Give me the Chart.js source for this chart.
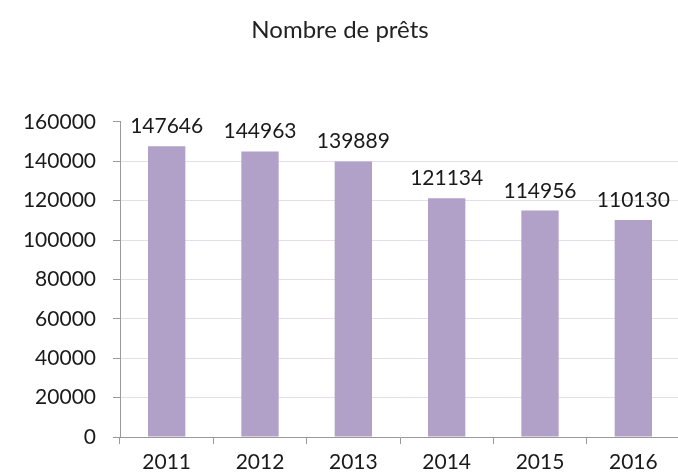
<!DOCTYPE html>
<html>
<head>
<meta charset="utf-8">
<script src="https://cdn.jsdelivr.net/npm/chart.js@4"></script>
<style>
  html, body { margin: 0; padding: 0; background: #fff; overflow: hidden; }
  #wrap { width: 684px; height: 476px; }
</style>
</head>
<body>
<div id="wrap"><canvas id="pretsChart" width="684" height="476"></canvas></div>
<script>
// Data
const years = ["2011", "2012", "2013", "2014", "2015", "2016"];
const loans = [147646, 144963, 139889, 121134, 114956, 110130];

const FONT = "Lato, 'DejaVu Sans', sans-serif";
const TEXT = "#1a1a1a";

// Draw the value above each bar
const valueLabels = {
  id: "valueLabels",
  afterDatasetsDraw(chart) {
    const ctx = chart.ctx;
    ctx.save();
    ctx.font = "21px " + FONT;
    ctx.fillStyle = TEXT;
    ctx.textAlign = "center";
    ctx.textBaseline = "alphabetic";
    chart.getDatasetMeta(0).data.forEach((bar, i) => {
      ctx.fillText(String(loans[i]), bar.x, bar.y - 13);
    });
    ctx.restore();
  }
};

const ctx = document.getElementById("pretsChart").getContext("2d");
new Chart(ctx, {
  type: "bar",
  data: {
    labels: years,
    datasets: [{
      data: loans,
      backgroundColor: "#b1a0c7",
      categoryPercentage: 0.4,
      barPercentage: 1
    }]
  },
  options: {
    responsive: false,
    animation: false,
    layout: { padding: { left: 0, right: 4, top: 0, bottom: 0 } },
    plugins: {
      legend: { display: false },
      tooltip: { enabled: false },
      title: {
        display: true,
        text: "Nombre de prêts",
        color: "#222",
        font: { family: FONT, size: 24, weight: "normal" },
        padding: { top: 16, bottom: 77 }
      }
    },
    scales: {
      x: {
        grid: {
          offset: true,
          drawOnChartArea: false,
          tickLength: 7,
          tickColor: "#9a9a9a"
        },
        border: { color: "#9a9a9a", width: 1 },
        ticks: { color: TEXT, font: { family: FONT, size: 21 }, padding: 6 },
        afterFit(scale) { scale.height = 39; }
      },
      y: {
        min: 0,
        max: 160000,
        ticks: {
          stepSize: 20000,
          color: TEXT,
          font: { family: FONT, size: 21 },
          padding: 17,
          callback: (v) => String(v)
        },
        grid: {
          color: (c) => (c.tick && c.tick.value === 160000) ? "rgba(0,0,0,0)" : "#e3ddec",
          tickColor: "#9a9a9a",
          tickLength: 7
        },
        border: { color: "#9a9a9a", width: 1 },
        afterFit(scale) { scale.width = 120; }
      }
    }
  },
  plugins: [valueLabels]
});
</script>
</body>
</html>
